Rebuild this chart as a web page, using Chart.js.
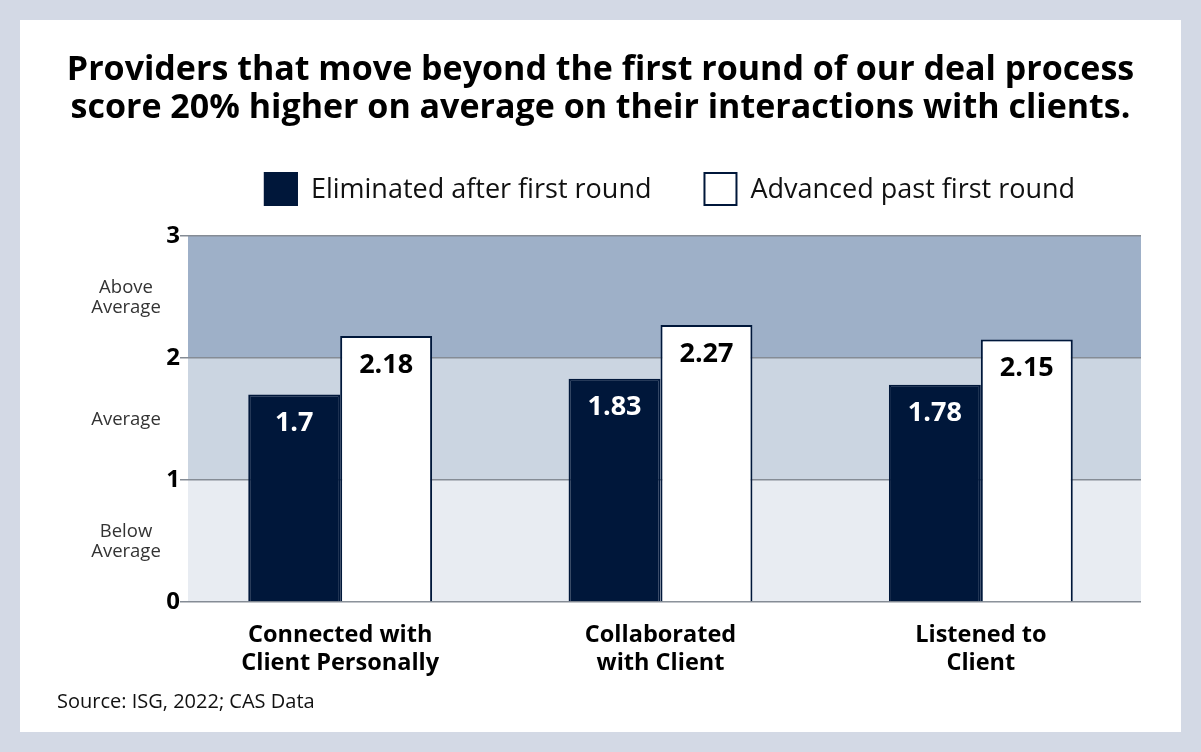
<!DOCTYPE html>
<html>
<head>
<meta charset="utf-8">
<script src="https://cdn.jsdelivr.net/npm/chart.js@4/dist/chart.umd.min.js"></script>
<style>
  html, body { margin: 0; padding: 0; background: #d3d9e5; }
  #panel { position: absolute; left: 20px; top: 20px; width: 1161px; height: 712px; background: #fff; }
  #chart { display: block; }
</style>
</head>
<body>
<div id="panel"><canvas id="chart" width="1161" height="712"></canvas></div>
<script>
const categories = [["Connected with", "Client Personally"], ["Collaborated", "with Client"], ["Listened to", "Client"]];
const eliminated = [1.7, 1.83, 1.78];
const advanced = [2.18, 2.27, 2.15];
const seriesNames = ["Eliminated after first round", "Advanced past first round"];
const yTicks = [0, 1, 2, 3];
const bandNames = [["Below", "Average"], ["Average"], ["Above", "Average"]];

const NAVY = "#00173a";
const FONT = "'Open Sans', sans-serif";
const BAND_INSET = 8; // bands start a little right of the grid lines

// shaded score bands behind the grid
const bandsPlugin = {
  id: "bands",
  beforeDraw(chart) {
    const { ctx, chartArea } = chart;
    const y = chart.scales.y;
    const colors = ["#e8ecf2", "#cbd5e1", "#9eb0c8"];
    ctx.save();
    for (let i = 0; i < 3; i++) {
      const top = y.getPixelForValue(yTicks[i + 1]);
      const bot = y.getPixelForValue(yTicks[i]);
      ctx.fillStyle = colors[i];
      ctx.fillRect(chartArea.left + BAND_INSET, top, chartArea.right - chartArea.left - BAND_INSET, bot - top);
    }
    // band names on the left
    ctx.fillStyle = "#333";
    ctx.font = "18.5px " + FONT;
    ctx.textAlign = "center";
    ctx.textBaseline = "middle";
    bandNames.forEach((lines, i) => {
      const mid = y.getPixelForValue(yTicks[i] + 0.5);
      const start = mid - ((lines.length - 1) * 20) / 2;
      lines.forEach((t, j) => ctx.fillText(t, 106, start + j * 20 + 1));
    });
    ctx.restore();
  },
};

// values inside bar tops, custom legend, source
const labelsPlugin = {
  id: "labels",
  afterDatasetsDraw(chart) {
    const { ctx } = chart;
    ctx.save();
    ctx.font = "bold 27px " + FONT;
    ctx.textAlign = "center";
    ctx.textBaseline = "middle";
    chart.data.datasets.forEach((ds, di) => {
      const meta = chart.getDatasetMeta(di);
      ctx.fillStyle = di === 0 ? "#fff" : "#000";
      meta.data.forEach((bar, i) => {
        ctx.fillText(String(ds.data[i]), bar.x, bar.y + 29);
      });
    });
    ctx.restore();
  },
  afterDraw(chart) {
    const { ctx, chartArea } = chart;
    ctx.save();
    // legend
    ctx.font = "27px " + FONT;
    ctx.textBaseline = "middle";
    ctx.textAlign = "left";
    const box = 34, gapText = 13, gapItem = 52;
    const widths = seriesNames.map((n) => box + gapText + ctx.measureText(n).width);
    const total = widths[0] + gapItem + widths[1];
    let x = (chartArea.left + chartArea.right) / 2 + 9 - total / 2;
    const cy = 169;
    chart.data.datasets.forEach((ds, i) => {
      ctx.fillStyle = ds.backgroundColor;
      ctx.fillRect(x, cy - box / 2, box, box);
      ctx.strokeStyle = NAVY;
      ctx.lineWidth = 2;
      ctx.strokeRect(x + 1, cy - box / 2 + 1, box - 2, box - 2);
      ctx.fillStyle = "#111";
      ctx.fillText(seriesNames[i], x + box + gapText, cy + 1);
      x += widths[i] + gapItem;
    });
    // source
    ctx.font = "20px " + FONT;
    ctx.fillStyle = "#111";
    ctx.fillText("Source: ISG, 2022; CAS Data", 37, 682);
    ctx.restore();
  },
};

new Chart(document.getElementById("chart"), {
  type: "bar",
  data: {
    labels: categories,
    datasets: [
      {
        label: seriesNames[0],
        data: eliminated,
        backgroundColor: NAVY,
        borderColor: NAVY,
        borderWidth: 2,
      },
      {
        label: seriesNames[1],
        data: advanced,
        backgroundColor: "#ffffff",
        borderColor: NAVY,
        borderWidth: 2,
      },
    ],
  },
  options: {
    responsive: false,
    animation: false,
    devicePixelRatio: 1,
    // equal side padding keeps the title centred on the panel
    layout: { padding: { left: 40, right: 40, top: 0, bottom: 0 } },
    datasets: { bar: { categoryPercentage: 0.574, barPercentage: 1.0 } },
    plugins: {
      legend: { display: false },
      tooltip: { enabled: false },
      title: {
        display: true,
        text: [
          "Providers that move beyond the first round of our deal process",
          "score 20% higher on average on their interactions with clients.",
        ],
        color: "#000",
        font: { family: FONT, size: 34, weight: "bold", lineHeight: 1.13 },
        padding: { top: 31, bottom: 108 },
      },
    },
    scales: {
      x: {
        grid: { display: false, drawTicks: false },
        border: { display: false },
        ticks: {
          color: "#000",
          padding: 19,
          font: { family: FONT, size: 23.5, weight: "bold", lineHeight: 1.2 },
        },
        afterFit(scale) { scale.height = 130; },
      },
      y: {
        min: 0,
        max: 3,
        border: { display: false },
        grid: { color: "#858c95", lineWidth: 1.5, drawTicks: false },
        ticks: {
          stepSize: 1,
          color: "#000",
          padding: 0,
          font: { family: FONT, size: 24, weight: "bold" },
        },
        afterFit(scale) { scale.width = 120; },
      },
    },
  },
  plugins: [bandsPlugin, labelsPlugin],
});
</script>
</body>
</html>
